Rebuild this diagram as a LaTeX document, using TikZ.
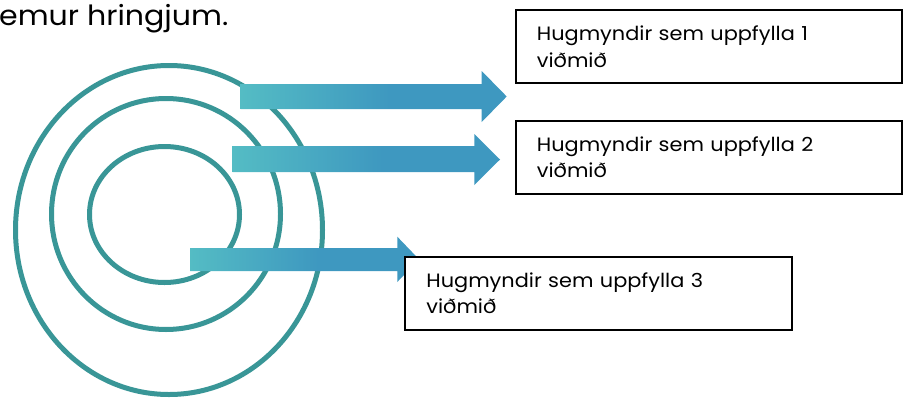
\documentclass[tikz,border=0pt]{standalone}
\usepackage{fontspec}
\setmainfont[FakeStretch=1.08]{Poppins}
\definecolor{ringc}{RGB}{57,150,151}
\definecolor{arrL}{RGB}{84,188,196}
\definecolor{arrR}{RGB}{62,152,192}
\pgfdeclarehorizontalshading{arrowgrad}{100bp}{color(0bp)=(arrL); color(25bp)=(arrL); color(53bp)=(arrR); color(100bp)=(arrR)}
\begin{document}
\begin{tikzpicture}[x=1pt,y=-1pt,
  ring/.style={draw=ringc,line width=5pt},
  bigarrow/.style={shading=arrowgrad,draw=none},
  idea/.style={draw=black,line width=1.8pt,fill=white,anchor=north west,
    minimum width=386pt,minimum height=73pt,inner xsep=21pt,inner ysep=0pt,
    text width=344pt,align=left,font=\fontsize{19.3}{26.2}\selectfont}]
\useasboundingbox (0,0) rectangle (909,399);
% title
\node[anchor=base west,inner sep=0pt,font=\fontsize{27.8}{32}\selectfont] (title) at (-1,25) {emur hringjum.};
% rings
\draw[ring] (169,230) ellipse [x radius=153.5,y radius=164.5];
\draw[ring] (166,214) ellipse [x radius=114.5,y radius=115.5];
\draw[ring] (164.5,214.5) ellipse [x radius=75,y radius=68];
% arrows
\shade[bigarrow] (240.7,84) -- (481.7,84) -- (481.7,71) -- (506.7,96.5) -- (481.7,122) -- (481.7,109) -- (240.7,109) -- cycle;
\shade[bigarrow] (232.7,146) -- (474.3,146) -- (474.3,134) -- (500,159.5) -- (474.3,185) -- (474.3,172) -- (232.7,172) -- cycle;
\shade[bigarrow] (190,248) -- (397.3,248) -- (397.3,236.7) -- (419,259.3) -- (397.3,282) -- (397.3,271) -- (190,271) -- cycle;
% boxes
\node[idea] (b1) at (515,9.3) {Hugmyndir sem uppfylla 1\\viðmið};
\node[idea] (b2) at (515,120) {Hugmyndir sem uppfylla 2\\viðmið};
\node[idea,minimum width=387pt] (b3) at (404,256) {Hugmyndir sem uppfylla 3\\viðmið};
\end{tikzpicture}
\end{document}
